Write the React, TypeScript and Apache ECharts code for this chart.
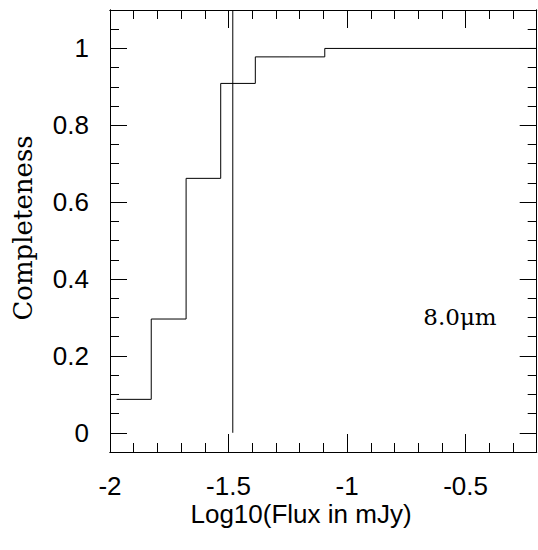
import React, { useEffect, useRef } from "react";
import * as echarts from "echarts";

// Histogram bin starts (log10 flux) and completeness in each bin
const binStart = [-1.972, -1.826, -1.679, -1.533, -1.387, -1.241, -1.094, -0.2];
const completeness = [0.087, 0.296, 0.662, 0.909, 0.978, 0.978, 1.0, 1.0];

// Vertical marker (flux limit)
const fluxLimitX = -1.482;
const fluxLimitY = [0, 1.1];

// Axis ticks
const xMajorTicks = [-2, -1.5, -1, -0.5];
const xMinorTicks = [-1.9, -1.8, -1.7, -1.6, -1.4, -1.3, -1.2, -1.1, -0.9, -0.8, -0.7, -0.6, -0.4, -0.3];
const yMajorTicks = [0, 0.2, 0.4, 0.6, 0.8, 1];
const yMinorTicks = [0.05, 0.1, 0.15, 0.25, 0.3, 0.35, 0.45, 0.5, 0.55, 0.65, 0.7, 0.75, 0.85, 0.9, 0.95, 1.05];

const X_MIN = -2;
const X_MAX = -0.2;
const Y_MIN = -0.05;
const Y_MAX = 1.1;

const labelFont = "'Liberation Sans', Arial, Helvetica, sans-serif";
const serifFont = "'DejaVu Serif', 'Liberation Serif', serif";

function xAxis(position: "top" | "bottom", ticks: number[], len: number, labels: boolean) {
  return {
    type: "value",
    position,
    min: X_MIN,
    max: X_MAX,
    axisLine: { show: true, onZero: false, lineStyle: { color: "#000", width: 1 } },
    axisTick: { show: true, inside: true, length: len, customValues: ticks, lineStyle: { color: "#000", width: 1 } },
    axisLabel: {
      show: labels,
      customValues: xMajorTicks,
      margin: 21,
      color: "#000",
      fontSize: 26,
      fontFamily: labelFont,
    },
    splitLine: { show: false },
  };
}

function yAxis(position: "left" | "right", ticks: number[], len: number, labels: boolean) {
  return {
    type: "value",
    position,
    min: Y_MIN,
    max: Y_MAX,
    axisLine: { show: true, onZero: false, lineStyle: { color: "#000", width: 1 } },
    axisTick: { show: true, inside: true, length: len, customValues: ticks, lineStyle: { color: "#000", width: 1 } },
    axisLabel: {
      show: labels,
      customValues: yMajorTicks,
      margin: 21,
      color: "#000",
      fontSize: 26,
      fontFamily: labelFont,
      padding: [12, 0, 0, 0],
    },
    splitLine: { show: false },
  };
}

export default function App() {
  const ref = useRef<HTMLDivElement>(null);
  useEffect(() => {
    if (!ref.current) return;
    const chart = echarts.init(ref.current, null, { renderer: "svg" });
    const stepData = binStart.map((x, i) => [x, completeness[i]]);
    const limitData = fluxLimitY.map((y) => [fluxLimitX, y]);
    chart.setOption({
      animation: false,
      backgroundColor: "#fff",
      grid: { left: 110, right: 1.3, top: 10, bottom: 98, containLabel: false },
      xAxis: [
        xAxis("bottom", xMajorTicks, 18, true),
        xAxis("bottom", xMinorTicks, 9, false),
        xAxis("top", xMajorTicks, 18, false),
        xAxis("top", xMinorTicks, 9, false),
      ],
      yAxis: [
        yAxis("left", yMajorTicks, 17, true),
        yAxis("left", yMinorTicks, 9, false),
        yAxis("right", yMajorTicks, 17, false),
        yAxis("right", yMinorTicks, 9, false),
      ],
      series: [
        {
          type: "line",
          step: "end",
          data: stepData,
          symbol: "none",
          lineStyle: { color: "#000", width: 1 },
          xAxisIndex: 0,
          yAxisIndex: 0,
        },
        {
          type: "line",
          data: limitData,
          symbol: "none",
          lineStyle: { color: "#000", width: 1 },
          xAxisIndex: 0,
          yAxisIndex: 0,
        },
      ],
      graphic: [
        {
          type: "text",
          x: 301,
          y: 514,
          style: {
            text: "Log10(Flux in mJy)",
            fill: "#000",
            font: `26px ${labelFont}`,
            align: "center",
            verticalAlign: "middle",
          },
        },
        {
          type: "text",
          x: 23,
          y: 228,
          rotation: Math.PI / 2,
          style: {
            text: "Completeness",
            fill: "#000",
            font: `26px ${serifFont}`,
            align: "center",
            verticalAlign: "middle",
          },
        },
        {
          type: "text",
          x: 460,
          y: 317,
          style: {
            text: "8.0μm",
            fill: "#000",
            font: `23px ${serifFont}`,
            align: "center",
            verticalAlign: "middle",
          },
        },
      ],
    });
    return () => chart.dispose();
  }, []);
  return (
    <div
      ref={ref}
      style={{ position: "absolute", left: 0, top: 0, width: 538, height: 550 }}
    />
  );
}
